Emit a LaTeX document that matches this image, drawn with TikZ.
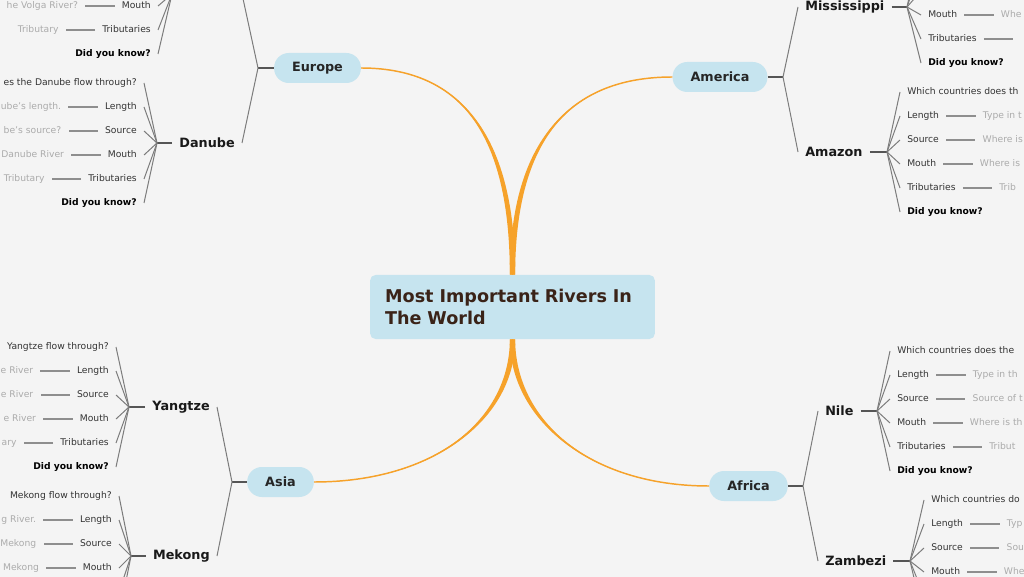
\documentclass[tikz,border=0pt]{standalone}
\usepackage{fontspec}
\setmainfont{DejaVu Sans}
\usetikzlibrary{positioning}

\definecolor{bgcol}{HTML}{F4F4F4}
\definecolor{pillblue}{HTML}{C6E4EF}
\definecolor{titlebrown}{HTML}{3A2318}
\definecolor{trunkorange}{HTML}{F6A22A}
\definecolor{branchgray}{HTML}{7C7C7C}
\definecolor{stubgray}{HTML}{555555}
\definecolor{twiggray}{HTML}{8E8E8E}
\definecolor{leafgray}{HTML}{333333}
\definecolor{notegray}{HTML}{ABABAB}

\tikzset{
  title/.style={fill=pillblue, rounded corners=4pt, text width=191pt, align=left,
    inner xsep=11.25pt, minimum height=48pt, text=titlebrown,
    font=\fontsize{13.2}{16.5}\selectfont\bfseries},
  topic/.style={fill=pillblue, rounded corners=11pt, minimum height=22.5pt,
    inner xsep=13.5pt, text=black!85, font=\fontsize{9.6}{11}\selectfont\bfseries},
  river/.style={inner xsep=5.25pt, inner ysep=1pt, text=black!90,
    font=\fontsize{9.6}{11}\selectfont\bfseries},
  leaf/.style={inner xsep=5.25pt, inner ysep=1pt, text height=5.4pt, text depth=1.6pt,
    text=leafgray, font=\fontsize{6.9}{8}\selectfont},
  know/.style={leaf, text=black, font=\fontsize{6.9}{8}\selectfont\bfseries},
  note/.style={leaf, text=notegray},
  trunk/.style={draw=trunkorange, line width=1.1pt},
  taper/.style={fill=trunkorange},
  branch/.style={draw=branchgray, line width=0.75pt},
  stub/.style={draw=stubgray, line width=1.2pt},
  twig/.style={draw=twiggray, line width=0.9pt},
}

\begin{document}
\begin{tikzpicture}[x=0.75pt, y=-0.75pt]

\useasboundingbox (0,0) rectangle (1024,577);
\fill[bgcol] (0,0) rectangle (1024,577);
\clip (0,0) rectangle (1024,577);

% centre and the four continents
\node[title] (title) at (512.5,307) {Most Important Rivers In\\The World};

\node[topic] (europe) at (317.5,68) {Europe};
\node[topic] (america) at (720,77) {America};
\node[topic] (asia) at (280.5,482) {Asia};
\node[topic] (africa) at (748.5,486) {Africa};

\draw[trunk] (europe.east) .. controls +(110,0) and +(0,-125) .. (title.north);
\draw[trunk] (america.west) .. controls +(-110,0) and +(0,-125) .. (title.north);
\draw[trunk] (asia.east) .. controls +(120,0) and +(0,80) .. (title.south);
\draw[trunk] (africa.west) .. controls +(-120,0) and +(0,80) .. (title.south);
\fill[taper] (europe.east) .. controls +(110,0) and +(0,-125) .. ([xshift=-2pt]title.north)
  -- ([xshift=2pt]title.north) .. controls +(0,-125) and +(110,0) .. (europe.east) -- cycle;
\fill[taper] (america.west) .. controls +(-110,0) and +(0,-125) .. ([xshift=2pt]title.north)
  -- ([xshift=-2pt]title.north) .. controls +(0,-125) and +(-110,0) .. (america.west) -- cycle;
\fill[taper] (asia.east) .. controls +(120,0) and +(0,80) .. ([xshift=-2pt]title.south)
  -- ([xshift=2pt]title.south) .. controls +(0,80) and +(120,0) .. (asia.east) -- cycle;
\fill[taper] (africa.west) .. controls +(-120,0) and +(0,80) .. ([xshift=2pt]title.south)
  -- ([xshift=-2pt]title.south) .. controls +(0,80) and +(-120,0) .. (africa.west) -- cycle;

\coordinate (europe-f) at (258,68);
\coordinate (america-f) at (783,77);
\coordinate (asia-f) at (232,482);
\coordinate (africa-f) at (803,486);
\draw[stub] (europe) -- (europe-f);
\draw[stub] (america) -- (america-f);
\draw[stub] (asia) -- (asia-f);
\draw[stub] (africa) -- (africa-f);

% rivers (Volga lies above the page)
\coordinate (volga) at (242,-6);
\node[river, anchor=east] (danube) at (242,143) {Danube};
\node[river, anchor=east] (yangtze) at (217,407) {Yangtze};
\node[river, anchor=east] (mekong) at (217,556) {Mekong};
\node[river, anchor=west] (mississippi) at (798,7) {Mississippi};
\node[river, anchor=west] (amazon) at (798,152) {Amazon};
\node[river, anchor=west] (nile) at (818,411) {Nile};
\node[river, anchor=west] (zambezi) at (818,561) {Zambezi};

\draw[branch] (europe-f) -- (volga);
\draw[branch] (europe-f) -- (danube.east);
\draw[branch] (asia-f) -- (yangtze.east);
\draw[branch] (asia-f) -- (mekong.east);
\draw[branch] (america-f) -- (mississippi.west);
\draw[branch] (america-f) -- (amazon.west);
\draw[branch] (africa-f) -- (nile.west);
\draw[branch] (africa-f) -- (zambezi.west);

% Volga
\coordinate (volga-f) at (172,-6);
\coordinate (volga-1) at (158,-66);
\coordinate (volga-2) at (158,-42);
\coordinate (volga-3) at (158,-18);
\node[leaf, anchor=east] (volga-4) at (158,6) {Mouth};
\node[note, left=22pt of volga-4] (volga-4-n) {he Volga River?};
\node[leaf, anchor=east] (volga-5) at (158,30) {Tributaries};
\node[note, left=22pt of volga-5] (volga-5-n) {Tributary};
\node[know, anchor=east] (volga-6) at (158,54) {Did you know?};
\draw[twig] (volga-4) -- (volga-4-n);
\draw[twig] (volga-5) -- (volga-5-n);
\foreach \k in {1,2,3} \draw[branch] (volga-f) -- (volga-\k);
\foreach \k in {4,5,6} \draw[branch] (volga-f) -- (volga-\k.east);

% Danube
\coordinate (danube-f) at (157,143);
\draw[stub] (danube) -- (danube-f);
\node[leaf, anchor=east] (danube-1) at (144,83) {es the Danube flow through?};
\foreach \k/\lab/\sub in {2/Length/{ube's length.}, 3/Source/{be's source?},
    4/Mouth/{Danube River}, 5/Tributaries/Tributary} {
  \node[leaf, anchor=east] (danube-\k) at (144,{83+(\k-1)*24}) {\lab};
  \node[note, left=22pt of danube-\k] (danube-\k-n) {\sub};
  \draw[twig] (danube-\k) -- (danube-\k-n);
}
\node[know, anchor=east] (danube-6) at (144,203) {Did you know?};
\foreach \k in {1,...,6} \draw[branch] (danube-f) -- (danube-\k.east);

% Yangtze
\coordinate (yangtze-f) at (129,407);
\draw[stub] (yangtze) -- (yangtze-f);
\node[leaf, anchor=east] (yangtze-1) at (116,347) {Yangtze flow through?};
\foreach \k/\lab/\sub in {2/Length/{e River}, 3/Source/{e River},
    4/Mouth/{e River}, 5/Tributaries/ary} {
  \node[leaf, anchor=east] (yangtze-\k) at (116,{347+(\k-1)*24}) {\lab};
  \node[note, left=22pt of yangtze-\k] (yangtze-\k-n) {\sub};
  \draw[twig] (yangtze-\k) -- (yangtze-\k-n);
}
\node[know, anchor=east] (yangtze-6) at (116,467) {Did you know?};
\foreach \k in {1,...,6} \draw[branch] (yangtze-f) -- (yangtze-\k.east);

% Mekong
\coordinate (mekong-f) at (131,556);
\draw[stub] (mekong) -- (mekong-f);
\node[leaf, anchor=east] (mekong-1) at (119,496) {Mekong flow through?};
\foreach \k/\lab/\sub in {2/Length/{g River.}, 3/Source/Mekong, 4/Mouth/Mekong} {
  \node[leaf, anchor=east] (mekong-\k) at (119,{496+(\k-1)*24}) {\lab};
  \node[note, left=22pt of mekong-\k] (mekong-\k-n) {\sub};
  \draw[twig] (mekong-\k) -- (mekong-\k-n);
}
\coordinate (mekong-5) at (119,592);
\coordinate (mekong-6) at (119,616);
\foreach \k in {1,...,4} \draw[branch] (mekong-f) -- (mekong-\k.east);
\foreach \k in {5,6} \draw[branch] (mekong-f) -- (mekong-\k);

% Mississippi
\coordinate (mississippi-f) at (907,7);
\draw[stub] (mississippi) -- (mississippi-f);
\coordinate (mississippi-1) at (921,-57);
\coordinate (mississippi-2) at (921,-33);
\coordinate (mississippi-3) at (921,-9);
\node[leaf, anchor=west] (mississippi-4) at (921,15) {Mouth};
\node[note, right=22pt of mississippi-4] (mississippi-4-n) {Whe};
\node[leaf, anchor=west] (mississippi-5) at (921,39) {Tributaries};
\coordinate[right=22pt of mississippi-5] (mississippi-5-n);
\node[know, anchor=west] (mississippi-6) at (921,63) {Did you know?};
\draw[twig] (mississippi-4) -- (mississippi-4-n);
\draw[twig] (mississippi-5) -- (mississippi-5-n);
\foreach \k in {1,2,3} \draw[branch] (mississippi-f) -- (mississippi-\k);
\foreach \k in {4,5,6} \draw[branch] (mississippi-f) -- (mississippi-\k.west);

% Amazon
\coordinate (amazon-f) at (887,152);
\draw[stub] (amazon) -- (amazon-f);
\node[leaf, anchor=west] (amazon-1) at (900,92) {Which countries does th};
\foreach \k/\lab/\sub in {2/Length/{Type in t}, 3/Source/{Where is},
    4/Mouth/{Where is}, 5/Tributaries/Trib} {
  \node[leaf, anchor=west] (amazon-\k) at (900,{92+(\k-1)*24}) {\lab};
  \node[note, right=22pt of amazon-\k] (amazon-\k-n) {\sub};
  \draw[twig] (amazon-\k) -- (amazon-\k-n);
}
\node[know, anchor=west] (amazon-6) at (900,212) {Did you know?};
\foreach \k in {1,...,6} \draw[branch] (amazon-f) -- (amazon-\k.west);

% Nile
\coordinate (nile-f) at (877,411);
\draw[stub] (nile) -- (nile-f);
\node[leaf, anchor=west] (nile-1) at (890,351) {Which countries does the};
\foreach \k/\lab/\sub in {2/Length/{Type in th}, 3/Source/{Source of t},
    4/Mouth/{Where is th}, 5/Tributaries/Tribut} {
  \node[leaf, anchor=west] (nile-\k) at (890,{351+(\k-1)*24}) {\lab};
  \node[note, right=22pt of nile-\k] (nile-\k-n) {\sub};
  \draw[twig] (nile-\k) -- (nile-\k-n);
}
\node[know, anchor=west] (nile-6) at (890,471) {Did you know?};
\foreach \k in {1,...,6} \draw[branch] (nile-f) -- (nile-\k.west);

% Zambezi
\coordinate (zambezi-f) at (910,561);
\draw[stub] (zambezi) -- (zambezi-f);
\node[leaf, anchor=west] (zambezi-1) at (924,500) {Which countries do};
\foreach \k/\lab/\sub in {2/Length/Typ, 3/Source/Sou, 4/Mouth/Whe} {
  \node[leaf, anchor=west] (zambezi-\k) at (924,{500+(\k-1)*24}) {\lab};
  \node[note, right=22pt of zambezi-\k] (zambezi-\k-n) {\sub};
  \draw[twig] (zambezi-\k) -- (zambezi-\k-n);
}
\coordinate (zambezi-5) at (924,596);
\coordinate (zambezi-6) at (924,620);
\foreach \k in {1,...,4} \draw[branch] (zambezi-f) -- (zambezi-\k.west);
\foreach \k in {5,6} \draw[branch] (zambezi-f) -- (zambezi-\k);

\end{tikzpicture}
\end{document}
